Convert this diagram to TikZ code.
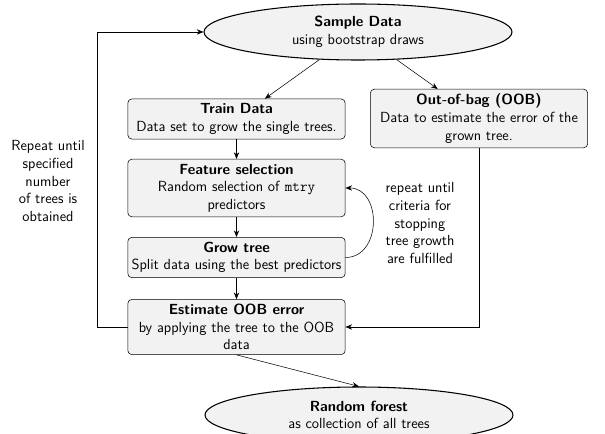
\documentclass[tikz,border=0pt]{standalone}
\usetikzlibrary{shapes.geometric,arrows.meta}
\renewcommand{\familydefault}{\sfdefault}
\hyphenpenalty=10000
\begin{document}
\begin{tikzpicture}[x=0.75pt,y=-0.75pt,
    every node/.style={font=\fontsize{11}{13.2}\selectfont},
    box/.style={draw,rounded corners=3pt,fill=gray!10,text width=162pt,
      align=flush center,inner xsep=0.5pt,inner ysep=3.5pt},
    blob/.style={draw,thick,ellipse,fill=gray!10,minimum width=231pt,
      minimum height=42pt,inner sep=0pt,align=center},
    note/.style={align=center},
    >={Stealth[length=5pt,width=4pt]}]
  \useasboundingbox (0,0) rectangle (605,434);
  \draw
    (358,32) node[blob] (sample){\textbf{Sample Data}\\using bootstrap draws}
    (236.5,119) node[box] (train){\textbf{Train Data}\\Data set to grow the single trees.}
    (479,118.5) node[box] (oob){\textbf{Out-of-bag (OOB)}\\Data to estimate the error of the grown tree.}
    (236.5,188) node[box] (feature){\textbf{Feature selection}\\Random selection of \texttt{mtry} predictors}
    (236.5,257.5) node[box] (grow){\textbf{Grow tree}\\Split data using the best predictors}
    (236.5,327) node[box] (estimate){\textbf{Estimate OOB error}\\by applying the tree to the OOB data}
    (359,415) node[blob] (forest){\textbf{Random forest}\\as collection of all trees}
    (48,181) node[note] (repeatall){Repeat until\\specified\\number\\of trees is\\obtained}
    (420,223) node[note] (repeatgrow){repeat until\\criteria for\\stopping\\tree growth\\are fulfilled};
  \begin{scope}[->]
    \draw (sample) to (train);
    \draw (sample) to (oob);
    \draw (train) to (feature);
    \draw (feature) to (grow);
    \draw (grow) to (estimate);
    \draw (estimate.south) to (forest.north);
    \draw (grow.east) to[out=0,in=0,looseness=1.35] (feature.east);
    \draw (estimate.west) -- ++(-30,0) |- (sample.west);
    \draw (oob.south) |- (estimate.east);
  \end{scope}
\end{tikzpicture}
\end{document}
